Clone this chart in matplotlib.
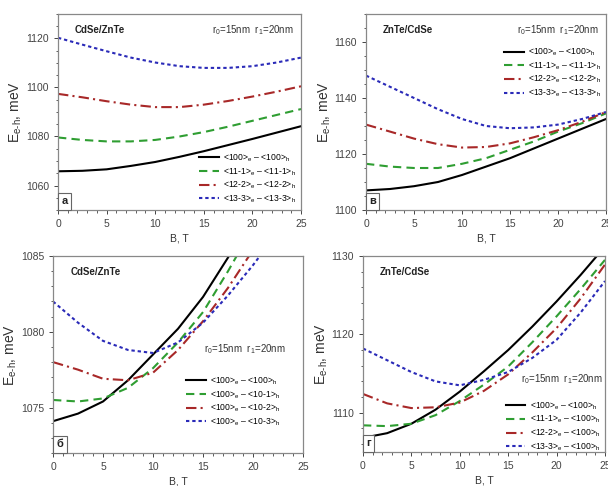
import numpy as np
import matplotlib
matplotlib.use("Agg")
import matplotlib.pyplot as plt
from matplotlib.ticker import MultipleLocator

plt.rcParams["font.family"] = ["Liberation Sans", "DejaVu Sans"]
plt.rcParams["mathtext.fontset"] = "custom"
plt.rcParams["mathtext.rm"] = "Liberation Sans"

# ── data ─────────────────────────────────────────────────────────────────────
B = [0, 2.5, 5, 7.5, 10, 12.5, 15, 17.5, 20, 22.5, 25]

# (а) CdSe/ZnTe, same-state transitions
a_100 = [1065.8, 1066.0, 1066.6, 1068.0, 1069.6, 1071.7, 1074.0, 1076.5, 1079.0, 1081.6, 1084.2]
a_111 = [1079.6, 1078.6, 1078.0, 1078.0, 1078.6, 1080.0, 1081.8, 1084.0, 1086.4, 1088.8, 1091.2]
a_122 = [1097.4, 1096.0, 1094.4, 1093.0, 1092.0, 1092.0, 1093.0, 1094.5, 1096.3, 1098.3, 1100.5]
a_133 = [1120.3, 1117.5, 1114.8, 1112.2, 1110.2, 1108.7, 1108.0, 1108.0, 1108.7, 1110.2, 1112.2]

# (в) ZnTe/CdSe, same-state transitions
v_100 = [1107.0, 1107.5, 1108.5, 1110.0, 1112.5, 1115.5, 1118.5, 1122.0, 1125.5, 1129.0, 1132.5]
v_111 = [1116.5, 1115.5, 1115.0, 1115.0, 1116.5, 1118.5, 1121.5, 1124.5, 1128.0, 1131.0, 1134.5]
v_122 = [1130.5, 1128.0, 1125.5, 1123.5, 1122.3, 1122.5, 1123.8, 1126.0, 1128.5, 1131.5, 1135.0]
v_133 = [1148.0, 1144.0, 1140.0, 1136.0, 1132.5, 1130.0, 1129.2, 1129.5, 1130.5, 1132.5, 1135.0]

# (б) CdSe/ZnTe, <100>e to hole states
b_100 = [1074.1, 1074.6, 1075.4, 1076.8, 1078.5, 1080.2, 1082.3, 1084.9, 1087.8, 1091.0, 1094.5]
b_101 = [1075.5, 1075.4, 1075.6, 1076.3, 1077.6, 1079.3, 1081.3, 1084.0, 1086.9, 1090.0, 1093.3]
b_102 = [1078.0, 1077.5, 1076.9, 1076.8, 1077.3, 1078.8, 1080.7, 1082.9, 1085.4, 1088.0, 1091.0]
b_103 = [1082.0, 1080.6, 1079.4, 1078.8, 1078.6, 1079.3, 1080.6, 1082.4, 1084.4, 1086.6, 1089.0]

# (г) ZnTe/CdSe, electron states to <100>h
g_100 = [1106.8, 1107.4, 1108.6, 1110.4, 1112.7, 1115.3, 1118.0, 1121.0, 1124.2, 1127.6, 1131.2]
g_111 = [1108.4, 1108.3, 1108.6, 1109.7, 1111.5, 1113.6, 1115.9, 1119.0, 1122.3, 1125.8, 1129.5]
g_122 = [1112.4, 1111.2, 1110.6, 1110.7, 1111.3, 1112.8, 1114.9, 1117.7, 1120.8, 1124.6, 1128.9]
g_133 = [1118.2, 1116.7, 1115.2, 1114.0, 1113.5, 1114.2, 1115.2, 1117.0, 1119.3, 1122.8, 1126.8]

lbl_same = [r"<100>$_\mathrm{e}$ – <100>$_\mathrm{h}$",
            r"<11-1>$_\mathrm{e}$ – <11-1>$_\mathrm{h}$",
            r"<12-2>$_\mathrm{e}$ – <12-2>$_\mathrm{h}$",
            r"<13-3>$_\mathrm{e}$ – <13-3>$_\mathrm{h}$"]
lbl_b = [r"<100>$_\mathrm{e}$ – <100>$_\mathrm{h}$",
         r"<100>$_\mathrm{e}$ – <10-1>$_\mathrm{h}$",
         r"<100>$_\mathrm{e}$ – <10-2>$_\mathrm{h}$",
         r"<100>$_\mathrm{e}$ – <10-3>$_\mathrm{h}$"]
lbl_g = [r"<100>$_\mathrm{e}$ – <100>$_\mathrm{h}$",
         r"<11-1>$_\mathrm{e}$ – <100>$_\mathrm{h}$",
         r"<12-2>$_\mathrm{e}$ – <100>$_\mathrm{h}$",
         r"<13-3>$_\mathrm{e}$ – <100>$_\mathrm{h}$"]

# line styles: solid black, green dashes, red dash-dot, blue short dashes
STYLES = [
    dict(color="black", ls="-"),
    dict(color="#2f9e32", ls=(0, (4, 2.5))),
    dict(color="#a82828", ls=(0, (5, 2, 1, 2))),
    dict(color="#2a2ab8", ls=(0, (1.6, 1.4))),
]

fig = plt.figure(figsize=(6.08, 4.86), dpi=100)


def panel(rect, series, labels, ylim, ymajor, yminor, name, tag,
          r_pos, leg_kw):
    ax = fig.add_axes(rect)
    for y, lab, st in zip(series, labels, STYLES):
        ax.plot(B, y, lw=1.5, label=lab, **st)
    ax.set_xlim(0, 25)
    ax.set_ylim(*ylim)
    ax.xaxis.set_major_locator(MultipleLocator(5))
    ax.xaxis.set_minor_locator(MultipleLocator(1))
    ax.yaxis.set_major_locator(MultipleLocator(ymajor))
    ax.yaxis.set_minor_locator(MultipleLocator(yminor))
    ax.tick_params(which="both", direction="out", labelsize=7.5,
                   colors="#444444", top=False, right=False)
    ax.tick_params(which="major", length=3, width=0.7)
    ax.tick_params(which="minor", length=1.8, width=0.6)
    for s in ax.spines.values():
        s.set_color("#888888")
        s.set_linewidth(0.9)
    ax.set_xlabel("B, T", fontsize=7.5, color="#333333", labelpad=3)
    ax.set_ylabel(r"E$_\mathrm{e\text{-}h}$, meV",
                  fontsize=10, color="#333333", labelpad=1)
    ax.text(0.07, 0.92, name, transform=ax.transAxes, fontsize=7,
            fontweight="bold", color="#222222", va="center", ha="left")
    ax.text(r_pos[0], r_pos[1], r"r$_0$=15nm  r$_1$=20nm",
            transform=ax.transAxes, fontsize=7, color="#333333",
            va="center", ha="right")
    ax.text(0.014, 0.018, tag, transform=ax.transAxes, fontsize=8,
            fontweight="bold", color="#222222", ha="left", va="bottom",
            bbox=dict(boxstyle="square,pad=0.3", fc="white",
                      ec="#666666", lw=0.8), zorder=5)
    ax.legend(frameon=False, fontsize=6.2, handlelength=2.3, handletextpad=0.5,
              labelspacing=0.25, borderaxespad=0.2, **leg_kw)
    return ax


panel([0.0954, 0.5679, 0.3997, 0.4033], [a_100, a_111, a_122, a_133], lbl_same,
      (1050, 1130), 20, 5, "CdSe/ZnTe", "а", (0.97, 0.92),
      dict(loc="lower right", bbox_to_anchor=(1.0, 0.0)))

panel([0.6020, 0.5679, 0.3947, 0.4033], [v_100, v_111, v_122, v_133], lbl_same,
      (1100, 1170), 20, 5, "ZnTe/CdSe", "в", (0.97, 0.92),
      dict(loc="upper right", bbox_to_anchor=(1.0, 0.86)))

panel([0.0872, 0.0679, 0.4112, 0.4053], [b_100, b_101, b_102, b_103], lbl_b,
      (1072, 1085), 5, 1, "CdSe/ZnTe", "б", (0.93, 0.53),
      dict(loc="upper right", bbox_to_anchor=(0.93, 0.42)))

panel([0.5970, 0.0700, 0.3980, 0.4033], [g_100, g_111, g_122, g_133], lbl_g,
      (1105, 1130), 10, 2, "ZnTe/CdSe", "г", (0.99, 0.37),
      dict(loc="upper right", bbox_to_anchor=(1.0, 0.29)))

fig.savefig("out.png", dpi=100)
